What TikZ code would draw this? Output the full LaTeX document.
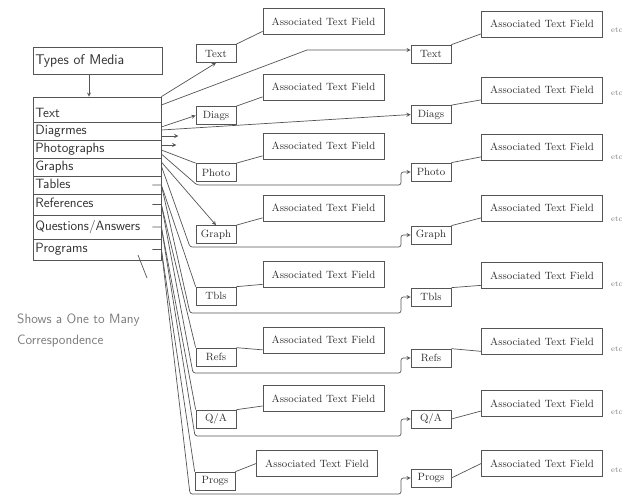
\documentclass[tikz,border=0pt]{standalone}
\usepackage{xcolor}
\usetikzlibrary{arrows}
\definecolor{mline}{HTML}{555555}
\definecolor{mtext}{HTML}{2E2E2E}
\definecolor{mnote}{HTML}{7A7A7A}
\tikzstyle{conn}=[draw=mline, line width=0.6]
\tikzstyle{head}=[draw=mline, line width=0.6, text=mtext, font=\sffamily\fontsize{12}{14}\selectfont, text width=3.72cm, inner xsep=0.075cm, align=left, minimum height=0.81cm]
\tikzstyle{row}=[draw=mline, line width=0.6, text=mtext, font=\sffamily\fontsize{11.5}{13}\selectfont, text width=3.7cm, inner xsep=0.07cm, inner ysep=1pt, text height=8pt, text depth=2.5pt, align=left, minimum height=0.54cm]
\tikzstyle{box}=[draw=mline, line width=0.6, text=mtext, font=\small, minimum width=1.2cm, minimum height=0.54cm, inner sep=1pt]
\tikzstyle{field}=[draw=mline, line width=0.6, text=mtext, font=\small, minimum width=3.63cm, minimum height=0.78cm, inner sep=1pt]
\tikzstyle{etcl}=[text=mnote, font=\fontsize{6.5}{7}\selectfont, anchor=west, inner sep=0pt]

\begin{document}
\begin{tikzpicture}[x=0.03cm, y=-0.03cm, >=stealth]
    \useasboundingbox (0,0) rectangle (626,496);

    % list of media types
    \node (media) [head] at (97.5,60.5) {Types of Media};
    \node (lText) [row, minimum height=0.75cm, text height=16pt] at (97,109.5) {Text};
    \node (lDiag) [row] at (97,131) {Diagrmes};
    \node (lPhoto) [row] at (97,149) {Photographs};
    \node (lGraph) [row] at (97,167) {Graphs};
    \node (lTbl) [row] at (97,185) {Tables};
    \node (lRef) [row, minimum height=0.63cm] at (97,204.5) {References};
    \node (lQA) [row, minimum height=0.72cm] at (97,227) {Questions/Answers};
    \node (lProg) [row, minimum height=0.63cm] at (97,249.5) {Programs};
    \draw[conn, ->] (media.south -| 89,0) -- (lText.north -| 89,0);

    \node (note) [text=mnote, font=\sffamily\fontsize{11.5}{18}\selectfont, align=left, anchor=north west, inner sep=0pt] at (17,314) {Shows a One to Many\\Correspondence};
    \coordinate (ptail) at (147,278);
    \coordinate (ptip) at (138,255);
    \draw[conn] (ptail) -- (ptip);

    % first column of links
    \node (mText) [box] at (216,53.5) {Text};
    \node (mDiags) [box] at (216,115.5) {Diags};
    \node (mPhoto) [box] at (216,172.5) {Photo};
    \node (mGraph) [box] at (216,234.5) {Graph};
    \node (mTbls) [box] at (216,296) {Tbls};
    \node (mRefs) [box] at (216,357) {Refs};
    \node (mQA) [box] at (216,419) {Q/A};
    \node (mProgs) [box] at (215,481) {Progs};
    \foreach \n/\y in {1/21.5, 2/87, 3/146, 4/208, 5/274.5, 6/340, 7/398.5}
        \node (mf\n) [field] at (323.5,\y) {Associated Text Field};
    \node (mf8) [field] at (317,463.5) {Associated Text Field};

    % second column of links
    \node (rText) [box] at (431,54) {Text};
    \node (rDiags) [box] at (431,114.5) {Diags};
    \node (rPhoto) [box] at (431,172) {Photo};
    \node (rGraph) [box] at (431,235) {Graph};
    \node (rTbls) [box] at (431,297) {Tbls};
    \node (rRefs) [box] at (431,358) {Refs};
    \node (rQA) [box] at (431,419) {Q/A};
    \node (rProgs) [box] at (431,478) {Progs};
    \foreach \n/\y/\e in {1/24/30, 2/90/93, 3/147/157, 4/208/219, 5/275.5/284, 6/341.5/349, 7/403.5/412, 8/463.5/470} {
        \node (rf\n) [field] at (542,\y) {Associated Text Field};
        \node (etc\n) [etcl] at (611,\e) {etc};
    }

    % box to its text field
    \draw[conn] (mText.north east) -- ([yshift=3pt]mf1.south west);
    \draw[conn] (mDiags.north east) -- ([yshift=3pt]mf2.south west);
    \draw[conn] (mPhoto.north east) -- ([yshift=3pt]mf3.south west);
    \draw[conn] (mGraph.north east) -- ([yshift=3pt]mf4.south west);
    \draw[conn] (mTbls.north east) -- ([yshift=3pt]mf5.south west);
    \draw[conn] (mRefs.north east) -- ([yshift=3pt]mf6.south west);
    \draw[conn] (mQA.north east) -- ([yshift=5pt]mf7.south west);
    \draw[conn] (mProgs.north east) -- (mf8.west);
    \draw[conn] (rText.north east) -- ([yshift=3pt]rf1.south west);
    \draw[conn] (rDiags.north east) -- ([yshift=3pt]rf2.south west);
    \draw[conn] (rPhoto.north east) -- ([yshift=3pt]rf3.south west);
    \draw[conn] (rGraph.north east) -- ([yshift=3pt]rf4.south west);
    \draw[conn] (rTbls.north east) -- ([yshift=3pt]rf5.south west);
    \draw[conn] (rRefs.north east) -- ([yshift=3pt]rf6.south west);
    \draw[conn] (rQA.east) -- ([yshift=5pt]rf7.south west);
    \draw[conn] (rProgs.east) -- (rf8.west);

    % one to many: each type goes to both columns
    \draw[conn, ->] (lText.north east) -- (mText.south);
    \draw[conn, ->] (lText.east |- 0,105) -- (307,50) -- (rText.west |- 0,50);
    \draw[conn, ->] (lDiag.east |- 0,127) -- (mDiags.west);
    \draw[conn, ->] (lDiag.east |- 0,130) -- (rDiags.west);
    \draw[conn, ->] (lDiag.east |- 0,136) -- ++(17,0);
    \draw[conn, ->] (lPhoto.east |- 0,145) -- ++(15,0);
    \draw[conn] (lPhoto.east |- 0,150) -- (mPhoto.north west);
    \draw[conn, ->, rounded corners=2] (lPhoto.east |- 0,154) -- (197,185) -- (401,185) |- (rPhoto.west);
    \draw[conn, ->] (lGraph.east |- 0,162) -- (mGraph.north);
    \draw[conn, ->, rounded corners=2] (lGraph.east |- 0,166) -- (190,247) -- (401,247) |- (rGraph.west);
    \draw[conn] ([xshift=-0.27cm]lTbl.east) -- (lTbl.east) -- (mTbls.north west);
    \draw[conn, ->, rounded corners=2] (lTbl.east) -- (190,313) -- (401,313) |- (rTbls.west);
    \draw[conn] ([xshift=-0.27cm]lRef.east) -- (lRef.east) -- (mRefs.north west);
    \draw[conn, ->, rounded corners=2] (lRef.east) -- (193,373) -- (401,373) |- (rRefs.west);
    \draw[conn] ([xshift=-0.27cm]lQA.east) -- (lQA.east) -- (mQA.north west);
    \draw[conn, ->, rounded corners=2] (lQA.east) -- (195,436) -- (401,436) |- (rQA.west);
    \draw[conn] ([xshift=-0.27cm]lProg.east) -- (lProg.east) -- (mProgs.north west);
    \draw[conn, ->, rounded corners=2] (lProg.east) -- (190,494) -- (401,494) |- (rProgs.west);
\end{tikzpicture}
\end{document}
